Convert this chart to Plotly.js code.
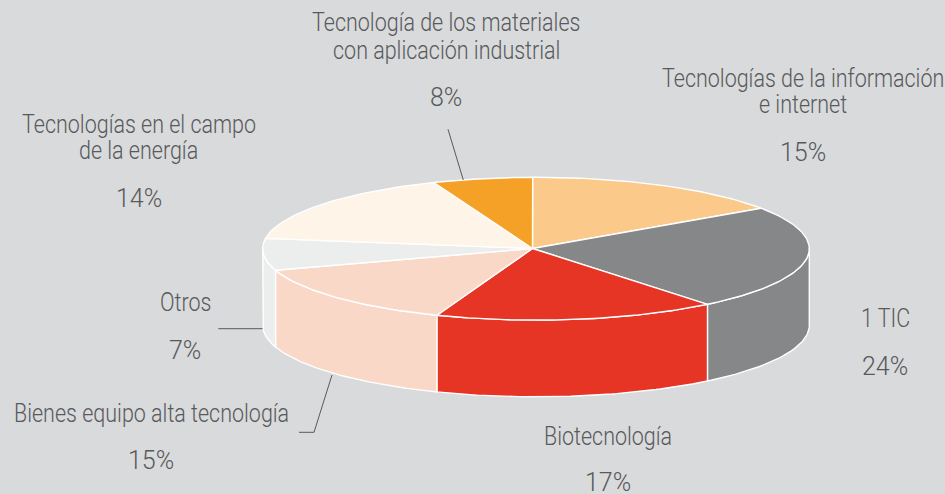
<!DOCTYPE html>
<html><head><meta charset="utf-8">
<script src="https://cdn.plot.ly/plotly-3.0.1.min.js"></script>
<style>html,body{margin:0;padding:0;background:#d9dadc}#c{width:945px;height:494px}
.annotation-text{transform-box:fill-box;transform-origin:center;transform:scaleX(var(--narrow,1))}
.annotation-text[data-unformatted$="%"]{transform:none}</style>
</head><body><div id="c"></div>
<script>
// Sectors clockwise from the top
const categories = ["Tecnologías de la información e internet","1 TIC","Biotecnología","Bienes equipo alta tecnología","Otros","Tecnologías en el campo de la energía","Tecnología de los materiales con aplicación industrial"];
const labelledShares = [15,24,17,15,7,14,8];           // printed percentages
const drawnShares = [15.6,23.8,16.7,14.2,7.2,16.6,5.9]; // slice sizes
const colors = ["#fbc98a","#868788","#e63425","#fad8c8","#eceeed","#fff4e8","#f5a127"];

const labelLines = [
  ["Tecnologías de la información","e internet"],
  ["1 TIC"],
  ["Biotecnología"],
  ["Bienes equipo alta tecnología"],
  ["Otros"],
  ["Tecnologías en el campo","de la energía"],
  ["Tecnología de los materiales","con aplicación industrial"]
];

// Layout settings
const pie = {cx:536,cy:248.7,rx:273.3,ry:71.4,depth:76.7,apexX:532.5,apexY:248.5,startDeg:-0.7};
const labelAnchors = [
  {x:802.5,y:[78,104],pct:152},{x:885,y:[318],pct:366},{x:608,y:[436],pct:482},
  {x:151,y:[413],pct:460},{x:185,y:[302],pct:350},{x:138.5,y:[124,150],pct:198},
  {x:446,y:[22,50],pct:97}
];
const leaders = [
  {x:[448,463.3],y:[129.3,180]},
  {x:[218.3,262.5],y:[328.7,328.7]},
  {x:[299,314,332],y:[432.3,432.3,375]}
];
const textColor = "#58595b", bg = "#d9dadc";
const font = {family:'Roboto,"Liberation Sans",sans-serif',size:25,weight:300,color:textColor};
const textNarrowing = 0.86;

const ex = d => pie.cx + pie.rx*Math.sin(d*Math.PI/180);
const ey = d => pie.cy - pie.ry*Math.cos(d*Math.PI/180);
function arc(a,b){const o=[];const n=Math.max(2,Math.ceil(Math.abs(b-a)));for(let i=0;i<=n;i++)o.push(a+(b-a)*i/n);return o;}

const total = drawnShares.reduce((s,v)=>s+v,0);
let deg = pie.startDeg;
const spans = drawnShares.map(v=>{const a=deg;deg+=v/total*360;return [a,deg];});

const common = {type:"scatter",mode:"lines",fill:"toself",hoverinfo:"skip",showlegend:false,line:{color:"#ffffff",width:1.4}};
const traces = [];
// walls of the near half of the disc
spans.forEach(([a,b],i)=>{
  const lo=Math.max(a,90), hi=Math.min(b,270);
  if(hi<=lo) return;
  const t=arc(lo,hi), r=t.slice().reverse();
  traces.push(Object.assign({},common,{
    x:t.map(ex).concat(r.map(ex)).concat([ex(lo)]),
    y:t.map(ey).concat(r.map(d=>ey(d)+pie.depth)).concat([ey(lo)]),
    fillcolor:colors[i]}));
});
// top faces
spans.forEach(([a,b],i)=>{
  const t=arc(a,b);
  traces.push(Object.assign({},common,{
    x:[pie.apexX].concat(t.map(ex)).concat([pie.apexX]),
    y:[pie.apexY].concat(t.map(ey)).concat([pie.apexY]),
    fillcolor:colors[i]}));
});
// leader lines
leaders.forEach(l=>traces.push({type:"scatter",mode:"lines",x:l.x,y:l.y,hoverinfo:"skip",showlegend:false,line:{color:textColor,width:1}}));

const annotations=[];
labelLines.forEach((lines,i)=>{
  lines.forEach((txt,j)=>annotations.push({x:labelAnchors[i].x,y:labelAnchors[i].y[j],xref:"x",yref:"y",text:txt,showarrow:false,font,xanchor:"center",yanchor:"middle"}));
  annotations.push({x:labelAnchors[i].x,y:labelAnchors[i].pct,xref:"x",yref:"y",text:labelledShares[i]+"%",showarrow:false,font,xanchor:"center",yanchor:"middle"});
});

document.documentElement.style.setProperty("--narrow",textNarrowing);
Plotly.newPlot("c",traces,{
  width:945,height:494,margin:{l:0,r:0,t:0,b:0},
  paper_bgcolor:bg,plot_bgcolor:bg,showlegend:false,
  xaxis:{range:[0,945],visible:false,fixedrange:true},
  yaxis:{range:[494,0],visible:false,fixedrange:true},
  annotations
},{displayModeBar:false,staticPlot:true});
</script></body></html>
